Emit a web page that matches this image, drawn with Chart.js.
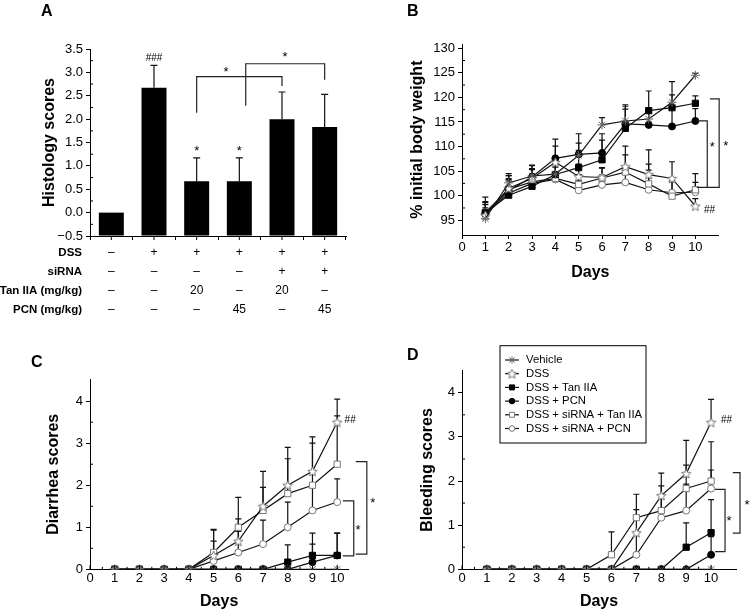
<!DOCTYPE html>
<html>
<head>
<meta charset="utf-8">
<script src="https://cdn.jsdelivr.net/npm/chart.js@4.4.1/dist/chart.umd.min.js"></script>
<style>
  html, body { margin: 0; padding: 0; background: #fff; }
  #wrap { position: relative; width: 752px; height: 612px; overflow: hidden; }
  .pane { position: absolute; }
</style>
</head>
<body>
<div id="wrap">
  <div class="pane" style="left:0;top:0;width:376px;height:320px"><canvas id="cA"></canvas></div>
  <div class="pane" style="left:376px;top:0;width:376px;height:290px"><canvas id="cB"></canvas></div>
  <div class="pane" style="left:0;top:300px;width:376px;height:312px"><canvas id="cC"></canvas></div>
  <div class="pane" style="left:376px;top:300px;width:376px;height:312px"><canvas id="cD"></canvas></div>
</div>
<script>
// ---- data ----
const groupNames = ['Vehicle', 'DSS', 'DSS + Tan IIA', 'DSS + PCN', 'DSS + siRNA + Tan IIA', 'DSS + siRNA + PCN'];
const days = [1, 2, 3, 4, 5, 6, 7, 8, 9, 10];
const dayTicks = [0, 1, 2, 3, 4, 5, 6, 7, 8, 9, 10];

// A: histology
const histoMean = [0, 2.67, 0.67, 0.67, 2.0, 1.83];
const histoSD = [0, 0.48, 0.5, 0.5, 0.58, 0.7];
const histoTicks = [-0.5, 0, 0.5, 1, 1.5, 2, 2.5, 3, 3.5];
const rowDSS = ['–', '+', '+', '+', '+', '+'];
const rowSiRNA = ['–', '–', '–', '–', '+', '+'];
const rowTan = ['–', '–', '20', '–', '20', '–'];
const rowPCN = ['–', '–', '–', '45', '–', '45'];

// B: % initial body weight
const bwVehicle = [95.3, 102.6, 104.0, 104.4, 108.2, 114.4, 115.2, 115.6, 119.0, 124.5];
const bwDSS     = [96.0, 101.5, 103.5, 106.8, 103.9, 103.7, 105.9, 104.3, 103.5, 97.9];
const bwTan     = [96.5, 100.1, 101.9, 104.3, 105.7, 107.3, 113.7, 117.3, 117.9, 118.8];
const bwPCN     = [96.3, 101.0, 103.8, 107.6, 108.4, 108.7, 114.6, 114.4, 114.1, 115.2];
const bwSiTan   = [96.6, 101.3, 102.8, 103.5, 102.3, 103.6, 104.8, 102.4, 99.9, 101.2];
const bwSiPCN   = [96.2, 100.5, 102.5, 103.3, 101.1, 102.2, 102.7, 101.2, 100.6, 100.7];
const bwVehicleSD = [1.2, 1.5, 1.5, 2.5, 2.5, 1.5, 3.0, 2.0, 1.5, 0.4];
const bwDSSSD     = [1.5, 2.0, 2.0, 3.3, 2.5, 2.0, 4.2, 5.0, 3.4, 1.5];
const bwTanSD     = [3.2, 4.0, 4.3, 3.0, 3.5, 4.0, 4.8, 4.0, 5.3, 1.5];
const bwPCNSD     = [2.5, 3.5, 2.3, 3.9, 4.2, 3.9, 3.0, 3.0, 4.5, 2.5];
const bwSiTanSD   = [2.0, 2.0, 2.5, 3.0, 2.0, 2.0, 3.5, 4.0, 3.0, 3.3];
const bwSiPCNSD   = [2.0, 2.5, 2.0, 2.5, 2.0, 2.0, 3.0, 4.0, 2.5, 2.0];
const bwTicks = [95, 100, 105, 110, 115, 120, 125, 130];

// C: diarrhea scores
const diVehicle = [0, 0, 0, 0, 0, 0, 0, 0, 0, 0];
const diDSS     = [0, 0, 0, 0, 0.33, 0.67, 1.5, 2.0, 2.33, 3.5];
const diTan     = [0, 0, 0, 0, 0, 0, 0, 0.17, 0.33, 0.33];
const diPCN     = [0, 0, 0, 0, 0, 0, 0, 0, 0.17, 0.33];
const diSiTan   = [0, 0, 0, 0, 0.4, 1.0, 1.4, 1.8, 2.0, 2.5];
const diSiPCN   = [0, 0, 0, 0, 0.2, 0.4, 0.6, 1.0, 1.4, 1.6];
const diDSSSD   = [0, 0, 0, 0, 0.6, 0.53, 0.83, 0.9, 0.82, 0.55];
const diTanSD   = [0, 0, 0, 0, 0, 0, 0, 0.41, 0.53, 0.53];
const diPCNSD   = [0, 0, 0, 0, 0, 0, 0, 0, 0.43, 0.53];
const diSiTanSD = [0, 0, 0, 0, 0.55, 0.71, 0.55, 0.83, 1.0, 1.15];
const diSiPCNSD = [0, 0, 0, 0, 0.47, 0.5, 0.57, 0.6, 0.6, 0.55];

// D: bleeding scores
const blVehicle = [0, 0, 0, 0, 0, 0, 0, 0, 0, 0];
const blDSS     = [0, 0, 0, 0, 0, 0, 0.83, 1.67, 2.17, 3.33];
const blTan     = [0, 0, 0, 0, 0, 0, 0, 0, 0.5, 0.83];
const blPCN     = [0, 0, 0, 0, 0, 0, 0, 0, 0, 0.33];
const blSiTan   = [0, 0, 0, 0, 0, 0.33, 1.17, 1.33, 1.83, 2.0];
const blSiPCN   = [0, 0, 0, 0, 0, 0, 0.33, 1.17, 1.33, 1.83];
const blDSSSD   = [0, 0, 0, 0, 0, 0, 0.52, 0.51, 0.75, 0.52];
const blTanSD   = [0, 0, 0, 0, 0, 0, 0, 0, 0.55, 0.75];
const blPCNSD   = [0, 0, 0, 0, 0, 0, 0, 0, 0, 0.41];
const blSiTanSD = [0, 0, 0, 0, 0, 0.52, 0.53, 0.56, 0.53, 0.89];
const blSiPCNSD = [0, 0, 0, 0, 0, 0, 0.5, 0.5, 0.6, 0.42];
const scoreTicks = [0, 1, 2, 3, 4];

// ---- look ----
const FONT = '"Liberation Sans", Arial, Helvetica, sans-serif';
Chart.defaults.font.family = FONT;
Chart.defaults.color = '#000';
Chart.defaults.animation = false;

function openStar(r) {
  const s = Math.ceil(r * 2 + 3), c = document.createElement('canvas');
  c.width = c.height = s;
  const g = c.getContext('2d');
  g.translate(s / 2, s / 2 + 0.5);
  g.beginPath();
  for (let k = 0; k < 10; k++) {
    const rr = k % 2 ? r * 0.45 : r, a = -Math.PI / 2 + k * Math.PI / 5;
    g.lineTo(rr * Math.cos(a), rr * Math.sin(a));
  }
  g.closePath();
  g.fillStyle = '#fff'; g.fill();
  g.strokeStyle = '#777'; g.lineWidth = 1; g.stroke();
  return c;
}
const DSS_STAR = openStar(5);

const looks = [
  { pointStyle: 'star', pointRadius: 4.5, pointBorderColor: '#666', pointBackgroundColor: '#666', pointBorderWidth: 1 },
  { pointStyle: DSS_STAR, pointRadius: 5, pointBorderColor: '#777', pointBackgroundColor: '#fff', pointBorderWidth: 1 },
  { pointStyle: 'rect', pointRadius: 4.4, pointBorderColor: '#000', pointBackgroundColor: '#000', pointBorderWidth: 1 },
  { pointStyle: 'circle', pointRadius: 3.5, pointBorderColor: '#000', pointBackgroundColor: '#000', pointBorderWidth: 1 },
  { pointStyle: 'rect', pointRadius: 4.4, pointBorderColor: '#777', pointBackgroundColor: '#fff', pointBorderWidth: 1 },
  { pointStyle: 'circle', pointRadius: 3.5, pointBorderColor: '#777', pointBackgroundColor: '#fff', pointBorderWidth: 1 }
];

function lineSets(series, sds) {
  return series.map((vals, i) => Object.assign({
    label: groupNames[i],
    data: days.map((d, j) => ({ x: d, y: vals[j] })),
    err: sds[i],
    borderColor: '#111',
    borderWidth: 1.2,
    tension: 0,
    fill: false
  }, looks[i]));
}

// ---- drawing helpers (error bars, brackets, notes, table, legend) ----
const marks = {
  id: 'marks',
  beforeDatasetsDraw(chart, args, o) {
    const ctx = chart.ctx, ys = chart.scales.y;
    ctx.save();
    ctx.strokeStyle = '#111';
    ctx.lineWidth = 1.2;
    chart.data.datasets.forEach((ds, i) => {
      if (!ds.err) return;
      chart.getDatasetMeta(i).data.forEach((el, j) => {
        const e = ds.err[j];
        if (!e) return;
        const v = typeof ds.data[j] === 'object' ? ds.data[j].y : ds.data[j];
        const top = ys.getPixelForValue(v + e);
        ctx.beginPath();
        ctx.moveTo(el.x, el.y); ctx.lineTo(el.x, top);
        ctx.moveTo(el.x - o.cap, top); ctx.lineTo(el.x + o.cap, top);
        ctx.stroke();
      });
    });
    ctx.restore();
  },
  afterDraw(chart, args, o) {
    const ctx = chart.ctx, xs = chart.scales.x, ys = chart.scales.y, ca = chart.chartArea;
    ctx.save();
    ctx.strokeStyle = '#000';
    ctx.fillStyle = '#000';
    ctx.lineWidth = 1;

    // minor ticks on y, inside
    const yt = ys.ticks.map(t => t.value);
    ctx.beginPath();
    for (let k = 0; k < yt.length - 1; k++) {
      const p = ys.getPixelForValue((yt[k] + yt[k + 1]) / 2);
      ctx.moveTo(ca.left, p); ctx.lineTo(ca.left + 3, p);
    }
    ctx.stroke();

    // x ticks drawn inward (C, D)
    if (o.xIn) {
      const xt = xs.ticks.map(t => t.value);
      ctx.beginPath();
      xt.forEach((v, k) => {
        const p = xs.getPixelForValue(v);
        ctx.moveTo(p, ca.bottom); ctx.lineTo(p, ca.bottom - 4);
        if (k < xt.length - 1) {
          const q = xs.getPixelForValue(v + 0.5);
          ctx.moveTo(q, ca.bottom); ctx.lineTo(q, ca.bottom - 2.5);
        }
      });
      ctx.stroke();
    }
    // ticks under bar centres (A)
    if (o.xCentre) {
      ctx.beginPath();
      chart.data.labels.forEach((l, k) => {
        const p = xs.getPixelForValue(k);
        ctx.moveTo(p, ca.bottom); ctx.lineTo(p, ca.bottom + 4);
      });
      ctx.stroke();
    }

    // brackets
    ctx.lineWidth = 1.2;
    ctx.strokeStyle = '#222';
    (o.brackets || []).forEach(b => {
      ctx.beginPath();
      b.forEach((pt, k) => {
        const px = xs.getPixelForValue(pt[0]), py = ys.getPixelForValue(pt[1]);
        k ? ctx.lineTo(px, py) : ctx.moveTo(px, py);
      });
      ctx.stroke();
    });

    // notes (stars, hashes)
    ctx.textBaseline = 'alphabetic';
    (o.notes || []).forEach(n => {
      const fs = n.size || 13;
      ctx.font = fs + 'px ' + FONT;
      ctx.textAlign = n.align || 'center';
      const px = xs.getPixelForValue(n.x), py = ys.getPixelForValue(n.y);
      const shift = n.t.indexOf('*') >= 0 ? 0.6 * fs : 0.36 * fs;
      ctx.fillText(n.t, px, py + shift);
    });

    // panel letter
    if (o.tag) {
      ctx.font = 'bold 16px ' + FONT;
      ctx.textAlign = 'left';
      ctx.fillText(o.tag.t, o.tag.x, o.tag.y);
    }

    // +/- table under panel A
    if (o.table) {
      const tb = o.table;
      tb.rows.forEach((r, k) => {
        const y = tb.y0 + k * tb.dy;
        ctx.textBaseline = 'middle';
        ctx.font = 'bold 11.5px ' + FONT;
        ctx.textAlign = 'right';
        ctx.fillText(r[0], tb.labelX, y);
        ctx.font = '12px ' + FONT;
        ctx.textAlign = 'center';
        r[1].forEach((c, j) => ctx.fillText(c, xs.getPixelForValue(j), y));
      });
    }

    // legend box (D)
    if (o.legend) {
      const L = o.legend;
      ctx.lineWidth = 1;
      ctx.strokeStyle = '#000';
      ctx.strokeRect(L.x, L.y, L.w, L.h);
      chart.data.datasets.forEach((ds, k) => {
        const y = L.row0 + k * L.dy;
        ctx.strokeStyle = '#111';
        ctx.lineWidth = 1.2;
        ctx.beginPath(); ctx.moveTo(L.lx0, y); ctx.lineTo(L.lx1, y); ctx.stroke();
        ctx.fillStyle = ds.pointBackgroundColor;
        ctx.strokeStyle = ds.pointBorderColor;
        ctx.lineWidth = ds.pointBorderWidth;
        if (Chart.helpers && Chart.helpers.drawPoint) {
          Chart.helpers.drawPoint(ctx, { pointStyle: ds.pointStyle, radius: ds.pointRadius * 0.8, borderWidth: 1, rotation: 0 }, (L.lx0 + L.lx1) / 2, y);
        }
        ctx.fillStyle = '#000';
        ctx.font = '11.3px ' + FONT;
        ctx.textAlign = 'left';
        ctx.textBaseline = 'middle';
        ctx.fillText(ds.label, L.tx, y);
      });
    }
    ctx.restore();
  }
};

function yAxis(o) {
  return {
    type: 'linear',
    min: o.min, max: o.max,
    afterBuildTicks: s => { s.ticks = o.ticks.map(v => ({ value: v })); },
    afterFit: s => { s.width = o.width; },
    grid: { drawOnChartArea: false, drawTicks: true, tickLength: 4, color: '#000' },
    border: { color: '#000', width: 1 },
    ticks: { font: { size: 13 }, padding: 3, color: '#000', callback: o.fmt || (v => v) },
    title: { display: true, text: o.title, font: { size: 16, weight: 'bold' }, padding: { top: o.titlePad, bottom: 0 }, color: '#000' }
  };
}
function dayAxis(o) {
  return {
    type: 'linear',
    min: 0, max: o.max,
    afterBuildTicks: s => { s.ticks = dayTicks.map(v => ({ value: v })); },
    afterFit: s => { s.height = o.height; },
    grid: { drawOnChartArea: false, drawTicks: o.ticksOut, tickLength: 4, color: '#000' },
    border: { color: '#000', width: 1 },
    ticks: { font: { size: 13 }, padding: o.pad, color: '#000', maxRotation: 0 },
    title: { display: true, text: 'Days', font: { size: 16, weight: 'bold' }, padding: { top: 0, bottom: o.titlePad }, color: '#000' }
  };
}

// ---- A ----
const histoMin = histoTicks[0];
new Chart(document.getElementById('cA'), {
  type: 'bar',
  data: {
    labels: groupNames,
    datasets: [{ data: histoMean, err: histoSD, base: histoMin, backgroundColor: '#000', borderWidth: 0, barPercentage: 0.586, categoryPercentage: 1 }]
  },
  options: {
    responsive: true, maintainAspectRatio: false,
    layout: { padding: { left: 0, top: 49, right: 30, bottom: 0 } },
    plugins: {
      legend: { display: false }, tooltip: { enabled: false },
      marks: {
        cap: 3.5, xCentre: true,
        tag: { t: 'A', x: 41, y: 16 },
        brackets: [
          [[2, 2.135], [2, 2.907], [4, 2.907], [4, 2.71]],
          [[3.15, 2.285], [3.15, 3.185], [5, 3.185], [5, 2.84]]
        ],
        notes: [
          { x: 1, y: 3.31, t: '###', size: 10 },
          { x: 2, y: 1.39, t: '*' }, { x: 3, y: 1.39, t: '*' },
          { x: 2.69, y: 3.1, t: '*' }, { x: 4.07, y: 3.4, t: '*' }
        ],
        table: {
          labelX: 82, y0: 253, dy: 19,
          rows: [['DSS', rowDSS], ['siRNA', rowSiRNA], ['Tan IIA (mg/kg)', rowTan], ['PCN (mg/kg)', rowPCN]]
        }
      }
    },
    scales: {
      x: {
        type: 'category',
        afterFit: s => { s.height = 84; },
        grid: { drawOnChartArea: false, drawTicks: true, tickLength: 4, color: '#000', offset: true },
        border: { color: '#000', width: 1 },
        ticks: { display: false }
      },
      y: yAxis({ min: histoMin, max: 3.5, ticks: histoTicks, width: 90, title: 'Histology scores', titlePad: 40.4,
        fmt: v => (v < 0 ? '−' + Math.abs(v).toFixed(1) : v.toFixed(1)) })
    }
  },
  plugins: [marks]
});

// ---- B ----
new Chart(document.getElementById('cB'), {
  type: 'line',
  data: { datasets: lineSets([bwVehicle, bwDSS, bwTan, bwPCN, bwSiTan, bwSiPCN],
                             [bwVehicleSD, bwDSSSD, bwTanSD, bwPCNSD, bwSiTanSD, bwSiPCNSD]) },
  options: {
    responsive: true, maintainAspectRatio: false,
    layout: { padding: { left: 0, top: 44.3, right: 33.3, bottom: 0 } },
    plugins: {
      legend: { display: false }, tooltip: { enabled: false },
      marks: {
        cap: 3,
        tag: { t: 'B', x: 31, y: 16 },
        brackets: [
          [[10.06, 115.2], [10.51, 115.2], [10.51, 101.7], [10.06, 101.7]],
          [[10.63, 119.7], [11.02, 119.7], [11.02, 101.7], [10.51, 101.7]]
        ],
        notes: [
          { x: 10.72, y: 110.6, t: '*' }, { x: 11.3, y: 110.9, t: '*' },
          { x: 10.37, y: 97.3, t: '##', size: 10, align: 'left' }
        ]
      }
    },
    scales: {
      x: dayAxis({ max: 11, height: 55, ticksOut: true, pad: 1, titlePad: 7.4 }),
      y: yAxis({ min: 92, max: 130.8, ticks: bwTicks, width: 86, title: '% initial body weight', titlePad: 32.1 })
    }
  },
  plugins: [marks]
});

// ---- C ----
new Chart(document.getElementById('cC'), {
  type: 'line',
  data: { datasets: lineSets([diVehicle, diDSS, diTan, diPCN, diSiTan, diSiPCN],
                             [null, diDSSSD, diTanSD, diPCNSD, diSiTanSD, diSiPCNSD]) },
  options: {
    responsive: true, maintainAspectRatio: false,
    layout: { padding: { left: 0, top: 79.3, right: 27.7, bottom: 0 } },
    plugins: {
      legend: { display: false }, tooltip: { enabled: false },
      marks: {
        cap: 3, xIn: true,
        tag: { t: 'C', x: 31, y: 67 },
        brackets: [
          [[10.23, 1.63], [10.67, 1.63], [10.67, 0.32], [10.23, 0.32]],
          [[10.75, 2.56], [11.2, 2.56], [11.2, 0.36], [10.75, 0.36]]
        ],
        notes: [
          { x: 10.84, y: 1.03, t: '*' }, { x: 11.44, y: 1.67, t: '*' },
          { x: 10.3, y: 3.56, t: '##', size: 10, align: 'left' }
        ]
      }
    },
    scales: {
      x: dayAxis({ max: 10.45, height: 42.7, ticksOut: false, pad: 1, titlePad: 0.7 }),
      y: yAxis({ min: 0, max: 4.52, ticks: scoreTicks, width: 90, title: 'Diarrhea scores', titlePad: 44.4 })
    }
  },
  plugins: [marks]
});

// ---- D ----
new Chart(document.getElementById('cD'), {
  type: 'line',
  data: { datasets: lineSets([blVehicle, blDSS, blTan, blPCN, blSiTan, blSiPCN],
                             [null, blDSSSD, blTanSD, blPCNSD, blSiTanSD, blSiPCNSD]) },
  options: {
    responsive: true, maintainAspectRatio: false,
    layout: { padding: { left: 0, top: 70.7, right: 16, bottom: 0 } },
    plugins: {
      legend: { display: false }, tooltip: { enabled: false },
      marks: {
        cap: 3, xIn: true,
        tag: { t: 'D', x: 31, y: 59.5 },
        brackets: [
          [[10.16, 1.81], [10.56, 1.81], [10.56, 0.4], [10.16, 0.4]],
          [[10.87, 2.19], [11.16, 2.19], [11.16, 0.82], [10.87, 0.82]]
        ],
        notes: [
          { x: 10.72, y: 1.18, t: '*' }, { x: 11.44, y: 1.55, t: '*' },
          { x: 10.4, y: 3.4, t: '##', size: 10, align: 'left' }
        ],
        legend: { x: 124, y: 45.7, w: 146, h: 97.3, row0: 60, dy: 13.7, lx0: 129, lx1: 143, tx: 150 }
      }
    },
    scales: {
      x: dayAxis({ max: 11, height: 42.7, ticksOut: false, pad: 1, titlePad: 0.7 }),
      y: yAxis({ min: 0, max: 4.5, ticks: scoreTicks, width: 86, title: 'Bleeding scores', titlePad: 42.1 })
    }
  },
  plugins: [marks]
});
</script>
</body>
</html>
